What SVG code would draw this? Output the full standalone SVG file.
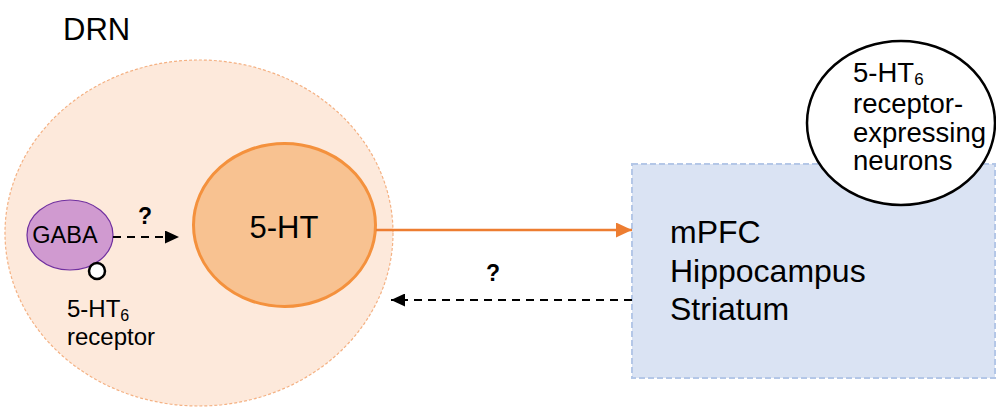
<svg xmlns="http://www.w3.org/2000/svg" width="996" height="407" viewBox="0 0 996 407">
  <defs>
    <style>
      text { font-family: "Liberation Sans", Arial, sans-serif; fill: #000; }
      .dash { stroke: #000; stroke-width: 2; stroke-dasharray: 8 6; fill: none; }
      .q { font-weight: bold; font-size: 23px; }
    </style>
    <marker id="headBlack" viewBox="0 0 10 10" refX="10" refY="5" markerWidth="14" markerHeight="13" markerUnits="userSpaceOnUse" orient="auto" preserveAspectRatio="none">
      <path d="M0,0 L10,5 L0,10 z" fill="#000"/>
    </marker>
    <marker id="headOrange" viewBox="0 0 10 10" refX="10" refY="5" markerWidth="16" markerHeight="15" markerUnits="userSpaceOnUse" orient="auto" preserveAspectRatio="none">
      <path d="M0,0 L10,5 L0,10 z" fill="#ed7d31"/>
    </marker>
  </defs>

  <!-- dorsal raphe nucleus region -->
  <g id="drn">
    <ellipse cx="199" cy="233" rx="194" ry="173" fill="#fde9db" stroke="#f4b183" stroke-width="1.2" stroke-dasharray="3 2"/>
    <text x="63" y="40" font-size="31">DRN</text>
  </g>

  <!-- projection targets -->
  <g id="targets">
    <rect x="632" y="164" width="363" height="214" fill="#dae3f3" stroke="#b4c7e7" stroke-width="2" stroke-dasharray="6 3"/>
    <text x="670" y="243" font-size="32">mPFC</text>
    <text x="670" y="282" font-size="32">Hippocampus</text>
    <text x="670" y="320" font-size="32">Striatum</text>
  </g>

  <!-- receptor-expressing neurons -->
  <g id="ht6-neurons">
    <ellipse cx="901" cy="123" rx="94" ry="82" fill="#fff" stroke="#000" stroke-width="2.5"/>
    <text x="853" y="82" font-size="27.5">5-HT<tspan font-size="17" dy="3">6</tspan></text>
    <text x="853" y="113" font-size="27.5">receptor-</text>
    <text x="853" y="142" font-size="27.5">expressing</text>
    <text x="853" y="170" font-size="27.5">neurons</text>
  </g>

  <!-- serotonergic neurons -->
  <g id="serotonin">
    <ellipse cx="284.5" cy="225" rx="91" ry="81.5" fill="#f8c291" stroke="#f4913d" stroke-width="3"/>
    <text x="284" y="238" font-size="31" text-anchor="middle">5-HT</text>
  </g>

  <!-- GABAergic interneuron with receptor -->
  <g id="gaba">
    <ellipse cx="70" cy="235" rx="43" ry="35" fill="#d09ad0" stroke="#7030a0" stroke-width="1.2"/>
    <text x="65" y="243" font-size="23.5" text-anchor="middle">GABA</text>
    <circle cx="97" cy="271" r="8" fill="#fff" stroke="#000" stroke-width="2.5"/>
    <text x="67" y="317" font-size="24">5-HT<tspan font-size="16" dy="4">6</tspan></text>
    <text x="67" y="345" font-size="24">receptor</text>
  </g>

  <!-- connectors -->
  <g id="connectors">
    <line x1="113" y1="237" x2="179" y2="237" class="dash" marker-end="url(#headBlack)"/>
    <text x="145" y="224" class="q" text-anchor="middle">?</text>
    <line x1="376" y1="230" x2="632" y2="230" stroke="#ed7d31" stroke-width="2.5" marker-end="url(#headOrange)"/>
    <line x1="632" y1="300" x2="391" y2="300" class="dash" marker-end="url(#headBlack)"/>
    <text x="493" y="281" class="q" text-anchor="middle">?</text>
  </g>
</svg>
